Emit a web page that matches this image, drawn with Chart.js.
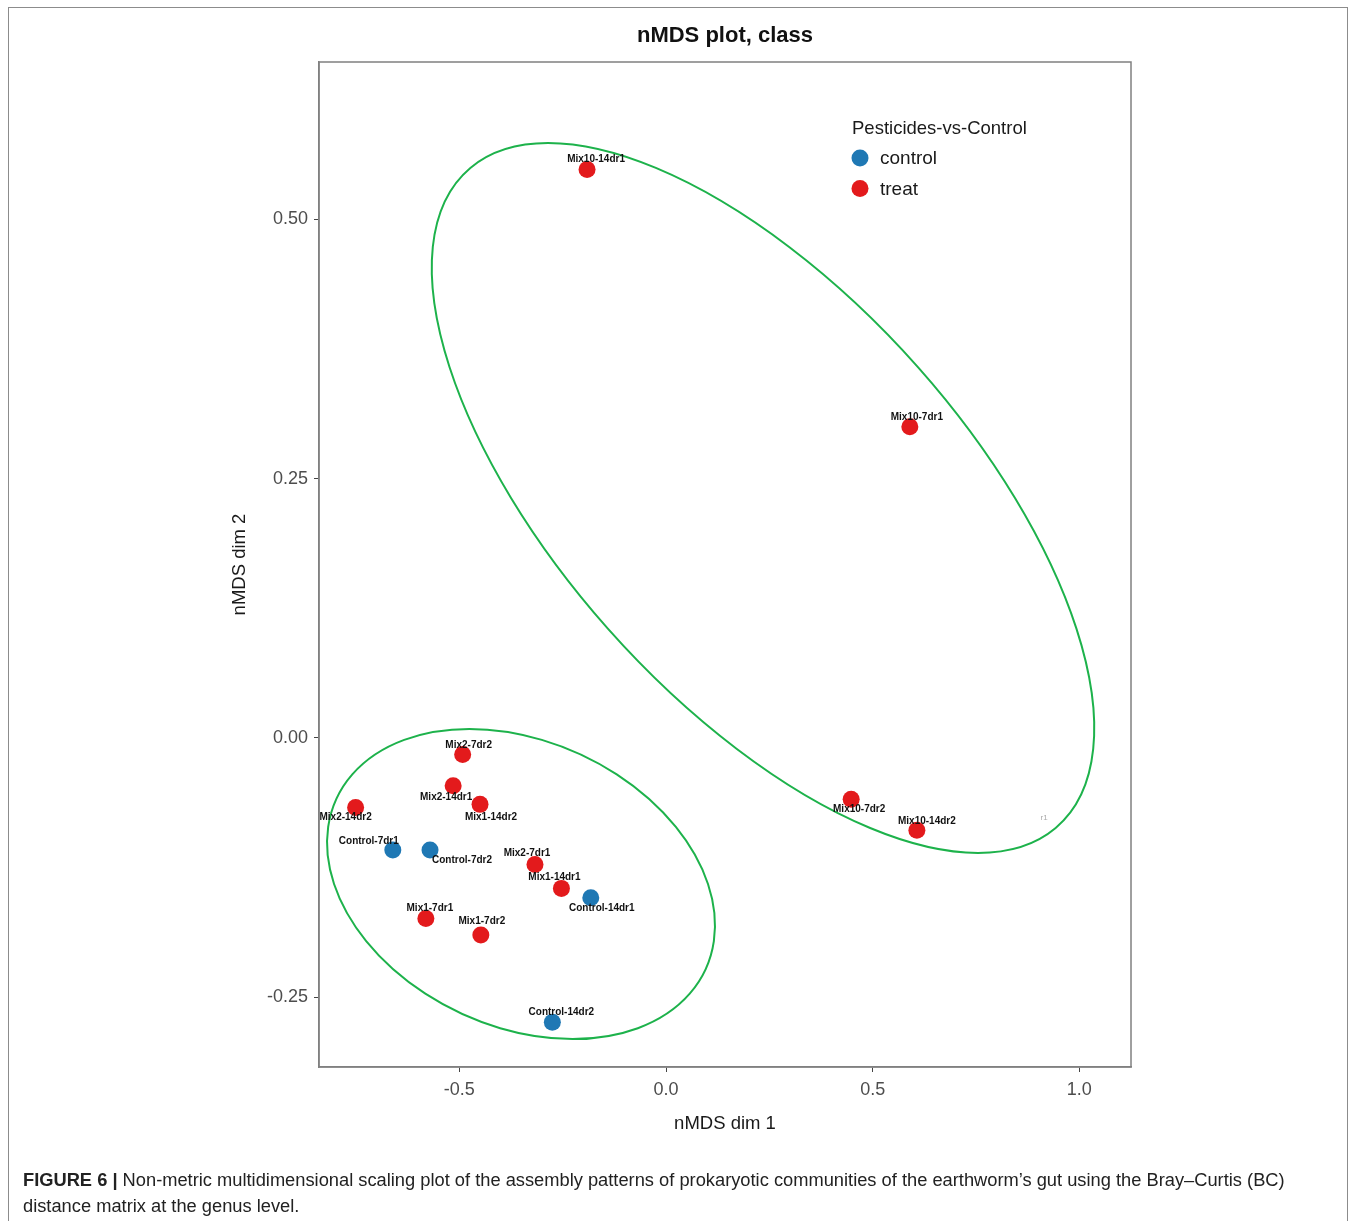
<!DOCTYPE html>
<html>
<head>
<meta charset="utf-8">
<script src="https://cdn.jsdelivr.net/npm/chart.js@4.4.1/dist/chart.umd.min.js"></script>
<style>
  body { margin: 0; background: #fff; font-family: "Liberation Sans", Arial, sans-serif; }
  #wrap { position: relative; width: 1356px; height: 1221px; overflow: hidden; }
  #frame { position: absolute; left: 8px; top: 7px; width: 1338px; height: 1260px; border: 1.5px solid #8c8c8c; }
  #chart { position: absolute; left: 0; top: 0; }
  #title { position: absolute; left: 319px; width: 812px; top: 22px; text-align: center;
           font-weight: bold; font-size: 22px; color: #111; }
  #caption { position: absolute; left: 23px; top: 1167px; width: 1295px; font-size: 18.3px;
             line-height: 26px; color: #222; }
</style>
</head>
<body>
<div id="wrap">
  <div id="frame"></div>
  <canvas id="chart" width="1356" height="1221"></canvas>
  <div id="title">nMDS plot, class</div>
  <div id="caption"><b>FIGURE 6 |</b> Non-metric multidimensional scaling plot of the assembly patterns of prokaryotic communities of the earthworm’s gut using the Bray–Curtis (BC) distance matrix at the genus level.</div>
</div>
<script>
// samples
const sampleNames = [
  "Mix10-14dr1", "Mix10-7dr1", "Mix10-7dr2", "Mix10-14dr2",
  "Mix2-7dr2", "Mix2-14dr1", "Mix1-14dr2", "Mix2-14dr2",
  "Control-7dr1", "Control-7dr2", "Mix2-7dr1", "Mix1-14dr1",
  "Control-14dr1", "Mix1-7dr1", "Mix1-7dr2", "Control-14dr2"
];
const sampleGroup = [
  "treat", "treat", "treat", "treat",
  "treat", "treat", "treat", "treat",
  "control", "control", "treat", "treat",
  "control", "treat", "treat", "control"
];
const dim1 = [
  -0.191, 0.590, 0.448, 0.607,
  -0.492, -0.515, -0.450, -0.751,
  -0.661, -0.571, -0.317, -0.253,
  -0.182, -0.581, -0.448, -0.275
];
const dim2 = [
  0.548, 0.300, -0.059, -0.089,
  -0.016, -0.046, -0.064, -0.067,
  -0.108, -0.108, -0.122, -0.145,
  -0.154, -0.174, -0.190, -0.274
];
const groupNames = ["control", "treat"];
const xTickValues = [-0.5, 0.0, 0.5, 1.0];
const yTickValues = [-0.25, 0.0, 0.25, 0.5];

// ellipses: centre, point at the top, point to the side (conjugate)
const ellipseCentre = [[0.2347, 0.2314], [-0.3508, -0.1408]];
const ellipseTop = [[-0.2855, 0.5736], [-0.4757, 0.0087]];
const ellipseSide = [[0.8444, 0.2314], [0.1016, -0.1408]];

// label offsets in pixels (repel-style placement)
const labelOffsets = [
  [9, -10], [7, -10], [8, 10], [10, -9],
  [6, -9], [-7, 12], [11, 13], [-10, 10],
  [-24, -9], [32, 10], [-8, -11], [-7, -11],
  [11, 11], [4, -10], [1, -14], [9, -10]
];

const groupColors = { control: "#1f78b4", treat: "#e31a1c" };

Chart.defaults.font.family = '"Liberation Sans", Arial, Helvetica, sans-serif';

const datasets = groupNames.map((g) => {
  const pts = [];
  sampleNames.forEach((name, i) => {
    if (sampleGroup[i] === g) pts.push({ x: dim1[i], y: dim2[i], name: name, idx: i });
  });
  return {
    label: g,
    data: pts,
    backgroundColor: groupColors[g],
    borderWidth: 0,
    pointRadius: 8.5,
    pointHoverRadius: 8.5
  };
});

const ellipsePlugin = {
  id: "ellipses",
  beforeDatasetsDraw(chart) {
    const { ctx, scales } = chart;
    const px = (p) => ({ x: scales.x.getPixelForValue(p[0]), y: scales.y.getPixelForValue(p[1]) });
    ctx.save();
    ctx.strokeStyle = "#1db24b";
    ctx.lineWidth = 2;
    for (let i = 0; i < ellipseCentre.length; i++) {
      const c = px(ellipseCentre[i]);
      const t = px(ellipseTop[i]);
      const s = px(ellipseSide[i]);
      ctx.save();
      ctx.transform(t.x - c.x, t.y - c.y, s.x - c.x, s.y - c.y, c.x, c.y);
      ctx.beginPath();
      ctx.arc(0, 0, 1, 0, Math.PI * 2);
      ctx.restore();
      ctx.stroke();
    }
    ctx.restore();
  }
};

const labelPlugin = {
  id: "pointLabels",
  afterDatasetsDraw(chart) {
    const { ctx, scales } = chart;
    ctx.save();
    ctx.font = 'bold 10px "Liberation Sans", Arial, sans-serif';
    ctx.fillStyle = "#111";
    ctx.textAlign = "center";
    ctx.textBaseline = "middle";
    sampleNames.forEach((name, i) => {
      const x = scales.x.getPixelForValue(dim1[i]) + labelOffsets[i][0];
      const y = scales.y.getPixelForValue(dim2[i]) + labelOffsets[i][1];
      ctx.fillText(name, x, y);
    });
    // stray fragment visible in the original image
    ctx.font = '8px "Liberation Sans", Arial, sans-serif';
    ctx.fillStyle = "#aaa";
    ctx.fillText("r1", scales.x.getPixelForValue(0.915), scales.y.getPixelForValue(-0.077));
    ctx.restore();
  },
  afterDraw(chart) {
    const { ctx, chartArea } = chart;
    ctx.save();
    // panel border
    ctx.strokeStyle = "#808080";
    ctx.lineWidth = 1.5;
    ctx.strokeRect(chartArea.left, chartArea.top, chartArea.right - chartArea.left, chartArea.bottom - chartArea.top);
    // legend
    const lx = chartArea.left + 533;
    ctx.fillStyle = "#1a1a1a";
    ctx.textBaseline = "middle";
    ctx.font = '18.5px "Liberation Sans", Arial, sans-serif';
    ctx.fillText("Pesticides-vs-Control", lx, 129);
    ctx.font = '19px "Liberation Sans", Arial, sans-serif';
    groupNames.forEach((g, i) => {
      const y = 158 + i * 30.5;
      ctx.beginPath();
      ctx.fillStyle = groupColors[g];
      ctx.arc(lx + 8, y, 8.5, 0, Math.PI * 2);
      ctx.fill();
      ctx.fillStyle = "#1a1a1a";
      ctx.fillText(g, lx + 28, y + 1);
    });
    ctx.restore();
  }
};

new Chart(document.getElementById("chart"), {
  type: "scatter",
  data: { datasets: datasets },
  plugins: [ellipsePlugin, labelPlugin],
  options: {
    responsive: false,
    animation: false,
    layout: { padding: { left: 0, top: 62, right: 225, bottom: 0 } },
    plugins: { legend: { display: false }, tooltip: { enabled: false } },
    scales: {
      x: {
        type: "linear",
        min: -0.8396,
        max: 1.1251,
        afterBuildTicks: (s) => { s.ticks = xTickValues.map((v) => ({ value: v })); },
        afterFit: (s) => { s.height = 154; },
        ticks: { callback: (v) => Number(v).toFixed(1), color: "#4d4d4d", font: { size: 18 }, padding: 7, maxRotation: 0, autoSkip: false },
        grid: { drawOnChartArea: false, tickLength: 5, color: "#444" },
        border: { color: "#808080", width: 1.5 },
        title: { display: true, text: "nMDS dim 1", color: "#1a1a1a", font: { size: 18.5 }, padding: { top: 0, bottom: 86 } }
      },
      y: {
        type: "linear",
        min: -0.3172,
        max: 0.6517,
        afterBuildTicks: (s) => { s.ticks = yTickValues.map((v) => ({ value: v })); },
        afterFit: (s) => { s.width = 319; },
        ticks: { callback: (v) => Number(v).toFixed(2), color: "#4d4d4d", font: { size: 18 }, padding: 6, autoSkip: false },
        grid: { drawOnChartArea: false, tickLength: 5, color: "#444" },
        border: { color: "#808080", width: 1.5 },
        title: { display: true, text: "nMDS dim 2", color: "#1a1a1a", font: { size: 18.5 }, padding: { top: 229, bottom: 0 } }
      }
    }
  }
});
</script>
</body>
</html>
